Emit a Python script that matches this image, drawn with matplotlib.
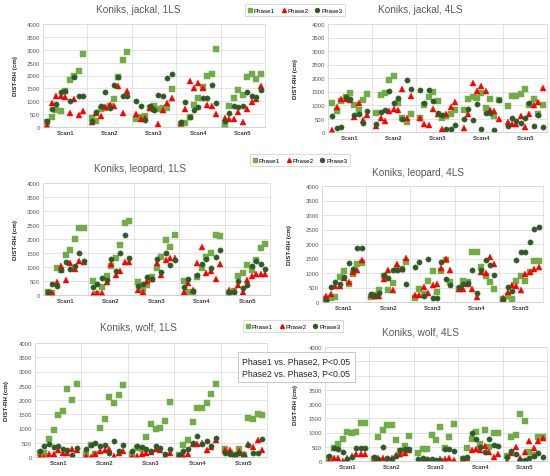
import matplotlib
matplotlib.use('Agg')
import matplotlib.pyplot as plt
from matplotlib.lines import Line2D

plt.rcParams['font.family'] = ['Liberation Sans', 'DejaVu Sans']

scans = ['Scan1', 'Scan2', 'Scan3', 'Scan4', 'Scan5']
phases = ['Phase1', 'Phase2', 'Phase3']
y_ticks = [0, 500, 1000, 1500, 2000, 2500, 3000, 3500, 4000]
note = 'Phase1 vs. Phase2, P<0.05\nPhase2 vs. Phase3, P<0.05'

# ---- jackal, 1LS (9 animals per scan)
jackal_1ls_p1 = [200, 400, 650, 630, 1400, 1830, 1980, 2170, 2830,
                 350, 240, 700, 730, 800, 1070, 1950, 2600, 2900,
                 300, 390, 430, 750, 810, 710, 750, 750, 1460,
                 100, 170, 400, 840, 1140, 1550, 1970, 2040, 3010,
                 90, 810, 1140, 1450, 1250, 1960, 2040, 1850, 2040]
jackal_1ls_p2 = [80, 920, 1200, 1190, 1160, 560, 1070, 460, 630,
                 200, 530, 420, 770, 870, 805, 1600, 530, 1380,
                 520, 300, 350, 720, 710, 100, 670, 930, 1140,
                 170, 680, 1800, 1510, 1720, 1510, 840, 810, 490,
                 360, 300, 300, 580, 190, 680, 990, 1100, 1610]
jackal_1ls_p3 = [250, 710, 890, 1350, 1390, 1020, 1960, 1200, 1210,
                 240, 600, 810, 1350, 730, 1640, 1960, 1220, 1200,
                 1010, 800, 260, 810, 650, 1230, 1190, 1910, 2060,
                 190, 970, 390, 650, 770, 1120, 1120, 1640, 940,
                 230, 540, 810, 770, 810, 1350, 1200, 1160, 1450]

# ---- jackal, 4LS
jackal_4ls_p1 = [1070, 760, 1130, 1300, 1440, 985, 800, 1170, 1415,
                 700, 1380, 1440, 1930, 2090, 1070, 530, 370, 680,
                 530, 1010, 1290, 1480, 1130, 530, 580, 650, 800,
                 800, 1230, 1290, 1270, 1440, 890, 1230, 590, 1170,
                 950, 1330, 1330, 1390, 1600, 1010, 1230, 650, 985]
jackal_4ls_p2 = [60, 920, 1210, 1210, 1170, 550, 1070, 430, 615,
                 220, 530, 400, 760, 860, 800, 1600, 530, 1350,
                 520, 280, 270, 860, 650, 120, 680, 920, 1110,
                 150, 680, 1810, 1510, 1720, 1510, 800, 780, 490,
                 370, 280, 280, 580, 185, 650, 985, 1110, 1620]
jackal_4ls_p3 = [590, 160, 170, 1290, 1210, 640, 680, 345, 790,
                 280, 740, 825, 1510, 1070, 1270, 470, 1910, 1600,
                 1540, 1080, 1560, 1130, 700, 640, 120, 120, 270,
                 470, 840, 430, 1030, 100, 700, 710, 60, 1190,
                 220, 530, 390, 345, 530, 1080, 220, 640, 185]

# ---- leopard, 1LS
leopard_1ls_p1 = [100, 70, 955, 900, 1430, 1590, 2010, 2400, 2400,
                  490, 40, 300, 690, 1050, 1330, 1790, 2570, 2640,
                  450, 215, 360, 630, 955, 1370, 1970, 1710, 2130,
                  490, 120, 120, 660, 955, 1370, 1500, 2150, 2090,
                  60, 155, 690, 775, 1070, 900, 1250, 1670, 1830]
leopard_1ls_p2 = [40, 70, 450, 1050, 550, 1150, 930, 1230, 1190,
                  40, 60, 60, 450, 1110, 720, 870, 1190, 1190,
                  180, 100, 490, 570, 1130, 720, 1250, 1310, 1310,
                  95, 420, 190, 1130, 1700, 790, 850, 570, 1110,
                  190, 155, 360, 95, 540, 690, 750, 750, 750]
leopard_1ls_p3 = [120, 390, 330, 900, 1190, 930, 1030, 1490, 1230,
                  300, 390, 610, 550, 1290, 840, 1490, 2150, 1330,
                  310, 390, 630, 570, 1270, 810, 1490, 1070, 1250,
                  275, 570, 155, 730, 1110, 1270, 970, 1350, 1610,
                  95, 120, 510, 240, 370, 1050, 1230, 1110, 930]

# ---- leopard, 4LS
leopard_4ls_p1 = [115, 140, 170, 860, 1060, 630, 970, 1310, 1350,
                  170, 250, 400, 900, 400, 660, 1140, 1140, 1390,
                  140, 460, 285, 710, 1060, 340, 1060, 1450, 690,
                  460, 740, 690, 1710, 1710, 1200, 890, 690, 460,
                  90, 205, 115, 720, 890, 740, 1030, 1430, 1430]
leopard_4ls_p2 = [195, 285, 550, 540, 820, 690, 1050, 1110, 1460,
                  230, 195, 195, 780, 1090, 400, 1310, 1150, 1510,
                  230, 250, 510, 310, 600, 630, 1180, 1490, 1120,
                  460, 435, 630, 435, 170, 1050, 1000, 1550, 1310,
                  140, 340, 570, 550, 400, 970, 1050, 1140, 1200]
leopard_4ls_p3 = [60, 510, 690, 630, 860, 1350, 1140, 1850, 1850,
                  285, 195, 310, 915, 835, 1090, 1110, 1150, 630,
                  1190, 1390, 205, 1490, 140, 140, 1370, 800, 590,
                  515, 630, 660, 1120, 320, 1090, 1460, 1260, 915,
                  90, 515, 365, 1460, 1710, 1710, 2080, 2510, 2590]

# ---- wolf, 1LS
wolf_1ls_p1 = [140, 140, 640, 935, 1460, 1610, 2400, 1990, 2570,
               115, 430, 115, 1020, 1320, 2100, 1890, 2190, 2510,
               80, 330, 290, 700, 1170, 990, 1020, 1260, 1930,
               60, 410, 585, 1230, 1730, 1720, 1890, 2200, 2550,
               270, 140, 80, 290, 60, 1370, 1345, 1520, 1460]
wolf_1ls_p2 = [25, 0, 95, 115, 235, 140, 140, 290, 235,
               25, 0, 115, 200, 235, 290, 25, 140, 200,
               0, 25, 115, 140, 175, 290, 260, 25, 140,
               25, 80, 115, 445, 470, 490, 235, 350, 585,
               235, 235, 60, 200, 115, 470, 350, 585, 260]
wolf_1ls_p3 = [200, 375, 470, 350, 375, 290, 260, 80, 315,
               270, 410, 500, 385, 430, 140, 550, 200, 410,
               200, 385, 350, 270, 200, 375, 315, 115, 290,
               80, 200, 270, 500, 725, 445, 550, 385, 680,
               150, 95, 80, 140, 35, 410, 140, 140, 640]

# ---- wolf, 4LS
wolf_4ls_p1 = [120, 450, 590, 765, 1020, 965, 1020, 1350, 1320,
               60, 850, 1080, 1260, 1260, 740, 350, 530, 880,
               295, 410, 435, 920, 730, 1200, 450, 850, 1290,
               60, 470, 765, 1020, 590, 1080, 495, 965, 1000,
               175, 850, 920, 1650, 1390, 320, 210, 850, 850]
wolf_4ls_p2 = [0, 95, 120, 0, 95, 175, 235, 260, 235,
               0, 95, 120, 0, 120, 210, 235, 295, 375,
               0, 60, 0, 0, 0, 80, 80, 95, 35,
               35, 100, 375, 435, 375, 530, 330, 140, 235,
               0, 295, 495, 95, 320, 705, 470, 705, 790]
wolf_4ls_p3 = [175, 470, 410, 320, 80, 150, 450, 450, 450,
               140, 80, 495, 95, 60, 175, 390, 435, 435,
               60, 95, 60, 80, 25, 25, 410, 435, 350,
               95, 140, 975, 765, 505, 330, 765, 565, 530,
               150, 350, 260, 35, 35, 120, 175, 270, 140]

W, H = 550, 477
green = '#70ad47'
red = '#ff0000'
dark = '#2e5a26'
grid_c = '#d9d9d9'
text_c = '#595959'

styles = [dict(marker='s', color=green, ms=3.7),
          dict(marker='^', color=red, ms=3.7),
          dict(marker='o', color=dark, ms=3.8)]

# (title, series, plot box in px [x0, y0, x1, y1], title centre x, title y, ylabel x)
panels = [
    ('Koniks, jackal, 1LS', [jackal_1ls_p1, jackal_1ls_p2, jackal_1ls_p3],
     [43, 25, 265, 128], 138, 10, 15),
    ('Koniks, jackal, 4LS', [jackal_4ls_p1, jackal_4ls_p2, jackal_4ls_p3],
     [328, 25, 547, 133], 420, 10, 295),
    ('Koniks, leopard, 1LS', [leopard_1ls_p1, leopard_1ls_p2, leopard_1ls_p3],
     [43, 184, 270, 296], 140, 169, 15),
    ('Koniks, leopard, 4LS', [leopard_4ls_p1, leopard_4ls_p2, leopard_4ls_p3],
     [322, 187, 543, 303], 418, 173, 290),
    ('Koniks, wolf, 1LS', [wolf_1ls_p1, wolf_1ls_p2, wolf_1ls_p3],
     [35, 344, 267, 458], 138, 328, 7),
    ('Koniks, wolf, 4LS', [wolf_4ls_p1, wolf_4ls_p2, wolf_4ls_p3],
     [325, 348, 547, 462], 420, 333, 295),
]

fig = plt.figure(figsize=(W / 100, H / 100), dpi=100)

for i, (title, series, box, tx, ty, lx) in enumerate(panels):
    x0, y0, x1, y1 = box
    ax = fig.add_axes([x0 / W, 1 - y1 / H, (x1 - x0) / W, (y1 - y0) / H])
    for vals, st in zip(series, styles):
        xs = [s * 10 + k + 1 for s in range(len(scans)) for k in range(9)]
        ax.plot(xs, vals, linestyle='none', marker=st['marker'], ms=st['ms'],
                color=st['color'], mec=st['color'], mew=0.3)
    ax.set_xlim(0, 50)
    ax.set_ylim(0, 4000)
    ax.set_yticks(y_ticks)
    labels = [str(v) for v in y_ticks]
    if i == 5:
        # 3000 and 3500 sit under the note box here
        labels = [l if v not in (3000, 3500) else '' for l, v in zip(labels, y_ticks)]
    ax.set_yticklabels(labels, fontsize=4.3, color=text_c)
    ax.set_xticks([s * 10 + 5 for s in range(len(scans))])
    ax.set_xticklabels(scans, fontsize=4.3, fontweight='bold', color='#404040')
    ax.set_xticks([s * 10 for s in range(len(scans) + 1)], minor=True)
    ax.tick_params(axis='both', which='both', length=0, pad=2)
    ax.grid(axis='y', color=grid_c, lw=0.5)
    ax.grid(axis='x', which='minor', color=grid_c, lw=0.5)
    ax.set_axisbelow(True)
    for sp in ax.spines.values():
        sp.set_color(grid_c)
        sp.set_linewidth(0.5)
    ax.spines['bottom'].set_color('#bfbfbf')
    fig.text(tx / W, 1 - ty / H, title, fontsize=7.2, color=text_c,
             ha='center', va='center')
    fig.text(lx / W, 1 - ((y0 + y1) / 2) / H, 'DIST-RH (cm)', fontsize=4.5,
             fontweight='bold', color='#262626', rotation=90,
             ha='center', va='center')

handles = [Line2D([], [], linestyle='none', marker=st['marker'],
                  ms=st['ms'], color=st['color']) for st in styles]
for cx, cy in [(295, 11), (300, 161), (293, 327)]:
    fig.legend(handles, phases, loc='center', bbox_to_anchor=(cx / W, 1 - cy / H),
               ncol=3, fontsize=4.5, frameon=True, fancybox=False, markerscale=0.75,
               edgecolor='#bfbfbf', handlelength=0.8, handletextpad=0.2,
               columnspacing=1.0, borderpad=0.5).get_frame().set_linewidth(0.5)

fig.text(242 / W, 1 - 368 / H, note, fontsize=6.3, color='#262626',
         ha='left', va='center', linespacing=1.45,
         bbox=dict(boxstyle='square,pad=0.5', fc='white', ec='#bfbfbf', lw=0.6))

fig.savefig('out.png', dpi=100)
